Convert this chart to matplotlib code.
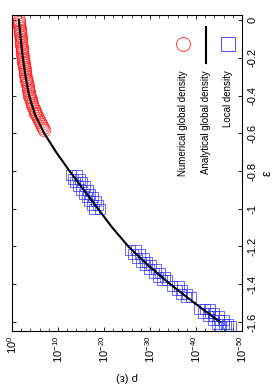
import matplotlib.pyplot as plt
import numpy as np
from matplotlib.ticker import FixedLocator, NullFormatter

plt.rcParams['font.family'] = ['Liberation Sans', 'DejaVu Sans']
plt.rcParams['mathtext.default'] = 'regular'
plt.rcParams['axes.unicode_minus'] = False

# analytical global density, log10(rho) against epsilon
eps_curve = [0.0, -0.1, -0.2, -0.3, -0.4, -0.5, -0.6, -0.7, -0.8, -0.9,
             -1.0, -1.1, -1.2, -1.3, -1.4, -1.5, -1.6]
logrho_curve = [-1.5, -1.9, -2.35, -2.95, -3.7, -5.0, -7.0, -9.6, -12.5, -15.6,
                -18.7, -21.8, -25.3, -29.6, -34.4, -39.7, -45.2]

# numerical global density
eps_num = [0.0, -0.01, -0.02, -0.03, -0.04, -0.05, -0.06, -0.07, -0.08, -0.09,
           -0.10, -0.11, -0.12, -0.13, -0.14, -0.15, -0.16, -0.17, -0.18, -0.19,
           -0.20, -0.21, -0.22, -0.23, -0.24, -0.25, -0.26, -0.27, -0.28, -0.29,
           -0.30, -0.31, -0.32, -0.33, -0.34, -0.35, -0.36, -0.37, -0.38, -0.39,
           -0.40, -0.41, -0.42, -0.43, -0.44, -0.45, -0.46, -0.47, -0.48, -0.49,
           -0.50, -0.51, -0.52, -0.53, -0.54, -0.55, -0.56, -0.57, -0.58]
logrho_num = [-1.50, -1.54, -1.58, -1.62, -1.66, -1.70, -1.74, -1.78, -1.82, -1.86,
              -1.90, -1.95, -1.99, -2.04, -2.08, -2.13, -2.17, -2.22, -2.26, -2.31,
              -2.35, -2.41, -2.47, -2.53, -2.60, -2.66, -2.73, -2.80, -2.86, -2.93,
              -3.00, -3.07, -3.15, -3.22, -3.30, -3.38, -3.46, -3.54, -3.62, -3.71,
              -3.80, -3.92, -4.05, -4.17, -4.30, -4.45, -4.60, -4.75, -4.90, -5.05,
              -5.20, -5.40, -5.60, -5.80, -6.00, -6.25, -6.50, -6.75, -7.00]

# local density (four windows in epsilon)
eps_loc = [-0.82, -0.82, -0.84, -0.84, -0.86, -0.86, -0.88, -0.88, -0.90, -0.90,
           -0.92, -0.92, -0.94, -0.94, -0.96, -0.96, -0.98, -0.98, -1.00, -1.00,
           -1.22, -1.22, -1.24, -1.24, -1.26, -1.26, -1.28, -1.28, -1.30, -1.30,
           -1.32, -1.32, -1.34, -1.34, -1.36, -1.36, -1.38, -1.38,
           -1.41, -1.41, -1.43, -1.43, -1.45, -1.45, -1.47, -1.47,
           -1.53, -1.53, -1.53, -1.55, -1.55, -1.55, -1.57, -1.57, -1.57,
           -1.59, -1.59, -1.59, -1.61, -1.61, -1.61, -1.62, -1.62, -1.62]
logrho_loc = [-12.8, -14.2, -13.3, -14.7, -13.8, -15.3, -14.4, -15.9, -15.0, -16.5,
              -15.6, -17.0, -16.2, -17.6, -16.8, -18.2, -17.4, -18.7, -17.9, -19.1,
              -25.6, -27.0, -26.4, -27.8, -27.2, -28.6, -28.0, -29.4, -28.9, -30.3,
              -29.8, -31.2, -30.8, -32.2, -31.8, -33.2, -32.6, -33.8,
              -34.8, -36.2, -35.8, -37.0, -36.8, -38.0, -37.8, -38.9,
              -40.6, -42.0, -43.0, -41.6, -43.0, -44.0, -42.6, -44.0, -45.0,
              -43.6, -45.0, -46.0, -44.6, -46.0, -47.0, -45.2, -46.5, -47.7]

xtick_exp = [0, -10, -20, -30, -40, -50]
ytick_vals = [0, -0.2, -0.4, -0.6, -0.8, -1, -1.2, -1.4, -1.6]
ytick_labels = ['0', '-0.2', '-0.4', '-0.6', '-0.8', '-1', '-1.2', '-1.4', '-1.6']

W, H = 274, 392
fig = plt.figure(figsize=(W / 100, H / 100), dpi=100)
ax = fig.add_axes([12 / W, 1 - 331 / H, 230 / W, 316 / H])

ax.plot(10.0 ** np.array(logrho_num), eps_num, 'o', mfc='none', mec='#ff2020',
        ms=9, mew=0.5)
ax.plot(10.0 ** np.array(logrho_loc), eps_loc, 's', mfc='none', mec='#3030ff',
        ms=7.2, mew=0.5)
ax.plot(10.0 ** np.array(logrho_curve), eps_curve, 'k-', lw=1.5)

ax.set_xscale('log')
ax.set_xlim(1, 1e-50)
ax.set_ylim(-1.648, 0.027)

ax.set_xticks([10.0 ** e for e in xtick_exp])
ax.set_xticklabels(['$10^{%d}$' % e for e in xtick_exp], rotation=90, fontsize=8)
ax.xaxis.set_minor_locator(FixedLocator([10.0 ** -k for k in range(2, 50, 2) if k % 10]))
ax.xaxis.set_minor_formatter(NullFormatter())
ax.set_yticks(ytick_vals)
ax.set_yticklabels(ytick_labels, rotation=90, va='center', fontsize=8)

ax.tick_params(axis='both', which='both', direction='in', top=True, bottom=True,
               left=True, right=True, labelleft=False, labelright=True)
ax.tick_params(which='major', length=3, width=0.6)
ax.tick_params(which='minor', length=2, width=0.5)
ax.tick_params(axis='y', pad=4)
for s in ax.spines.values():
    s.set_linewidth(0.8)

ax.set_xlabel('ρ (ε)', rotation=180, fontsize=8, labelpad=6)
ax.yaxis.set_label_position('right')
ax.set_ylabel('ε', rotation=90, fontsize=9, labelpad=3)


def px(x, y):
    return x / W, 1 - y / H


# rotated legend
x, y = px(183, 44)
fig.add_artist(plt.Line2D([x], [y], marker='o', mfc='none', mec='#ff2020', ms=10, mew=0.6))
x0, y0 = px(206, 27)
x1, y1 = px(206, 63)
fig.add_artist(plt.Line2D([x0, x1], [y0, y1], color='k', lw=1.5))
x, y = px(228, 44)
fig.add_artist(plt.Line2D([x], [y], marker='s', mfc='none', mec='#3030ff', ms=10, mew=0.6))

for xp, txt in [(183, 'Numerical global density'), (206, 'Analytical global density'),
                (228, 'Local density')]:
    x, y = px(xp, 70)
    fig.text(x, y, txt, rotation=90, ha='center', va='top', fontsize=7)

fig.savefig('out.png', dpi=100)
